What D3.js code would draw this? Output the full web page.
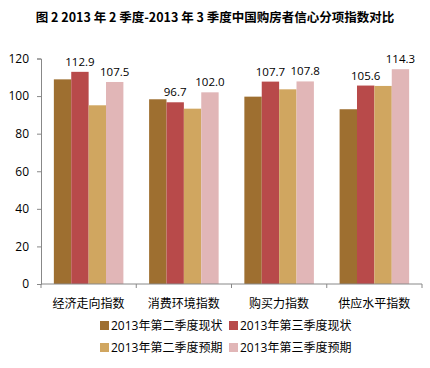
<!DOCTYPE html>
<html>
<head>
<meta charset="utf-8">
<script src="https://cdn.jsdelivr.net/npm/d3@7"></script>
<style>
body { margin: 0; background: #fff; }
text { font-family: "Open Sans", "Noto Sans CJK SC", sans-serif; fill: #000; }
</style>
</head>
<body>
<div id="chart"></div>
<script>
var categories = ['经济走向指数', '消费环境指数', '购买力指数', '供应水平指数'];
var seriesNames = ['2013年第二季度现状', '2013年第三季度现状', '2013年第二季度预期', '2013年第三季度预期'];
var q2Now = [108.9, 98.3, 99.7, 93.0];
var q3Now = [112.9, 96.7, 107.7, 105.6];
var q2Exp = [95.1, 93.3, 103.6, 105.4];
var q3Exp = [107.5, 102.0, 107.8, 114.3];
var yTicks = [0, 20, 40, 60, 80, 100, 120];
var colors = ['#9E6F30', '#B84A4A', '#D0A660', '#E1B6B7'];
var labelled = [false, true, false, true];

var series = [q2Now, q3Now, q2Exp, q3Exp];
var W = 430, H = 368;
var m = { left: 41, right: 8, top: 58.5, bottom: 84 };

var svg = d3.select('#chart').append('svg')
	.attr('width', W).attr('height', H);

svg.append('text')
	.attr('x', 215).attr('y', 22)
	.attr('text-anchor', 'middle')
	.style('font-family', '"Noto Sans CJK SC", sans-serif')
	.style('font-weight', 'bold').style('font-size', '12.5px')
	.text('图 2 2013 年 2 季度-2013 年 3 季度中国购房者信心分项指数对比');

var x0 = d3.scaleBand().domain(categories).range([m.left, W - m.right]).paddingInner(0.27).paddingOuter(0.135);
var x1 = d3.scaleBand().domain(d3.range(4)).range([0, x0.bandwidth()]);
var y = d3.scaleLinear().domain([0, 120]).range([H - m.bottom, m.top]);

var g = svg.append('g');
categories.forEach(function (c, i) {
	series.forEach(function (s, k) {
		g.append('rect')
			.attr('x', x0(c) + x1(k))
			.attr('y', y(s[i]))
			.attr('width', x1.bandwidth())
			.attr('height', y(0) - y(s[i]))
			.attr('fill', colors[k]);
		if (labelled[k]) {
			g.append('text')
				.attr('x', x0(c) + x1(k) + x1.bandwidth() / 2)
				.attr('y', y(s[i]) - 6)
				.attr('text-anchor', 'middle')
				.style('font-size', '11.5px')
				.text(s[i].toFixed(1));
		}
	});
});

// y axis
var yAxis = svg.append('g')
	.attr('transform', 'translate(' + m.left + ',0)')
	.call(d3.axisLeft(y).tickValues(yTicks).tickSize(4).tickPadding(8));
yAxis.selectAll('text').style('font-size', '12px');

// x axis with ticks between categories
var xAxis = svg.append('g')
	.attr('transform', 'translate(0,' + y(0) + ')');
xAxis.append('line').attr('x1', m.left).attr('x2', W - m.right).attr('stroke', '#888');
var step = (W - m.right - m.left) / categories.length;
d3.range(categories.length + 1).forEach(function (i) {
	xAxis.append('line')
		.attr('x1', m.left + i * step).attr('x2', m.left + i * step)
		.attr('y1', 0).attr('y2', 4).attr('stroke', '#888');
});
categories.forEach(function (c) {
	xAxis.append('text')
		.attr('x', x0(c) + x0.bandwidth() / 2)
		.attr('y', 24)
		.attr('text-anchor', 'middle')
		.style('font-family', '"Noto Sans CJK SC", sans-serif')
		.style('font-size', '12px')
		.text(c);
});

[yAxis].forEach(function (a) {
	a.select('.domain').attr('stroke', '#888');
	a.selectAll('.tick line').attr('stroke', '#888');
});

// legend
var legendPos = [[100, 330], [229, 330], [100, 352], [229, 352]];
seriesNames.forEach(function (n, k) {
	var lg = svg.append('g').attr('transform', 'translate(' + legendPos[k][0] + ',' + legendPos[k][1] + ')');
	lg.append('rect').attr('x', 0).attr('y', -9).attr('width', 9).attr('height', 9).attr('fill', colors[k]);
	lg.append('text').attr('x', 11).attr('y', 0)
		.style('font-family', '"Open Sans", "Noto Sans CJK SC", sans-serif')
		.style('font-size', '12px')
		.text(n);
});
</script>
</body>
</html>
